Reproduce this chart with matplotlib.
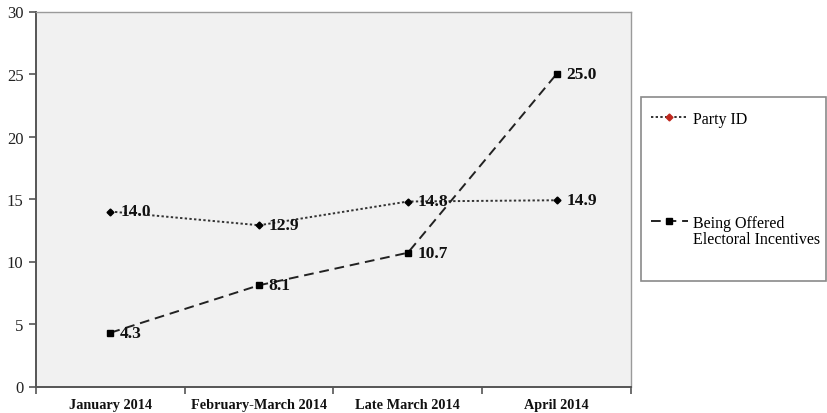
import matplotlib
matplotlib.use("Agg")
import matplotlib.pyplot as plt
from matplotlib.lines import Line2D
from matplotlib.patches import Rectangle

plt.rcParams['font.family'] = ['Liberation Serif', 'DejaVu Serif']

periods = ["January 2014", "February-March 2014", "Late March 2014", "April 2014"]
party_id = [14.0, 12.9, 14.8, 14.9]
incentives = [4.3, 8.1, 10.7, 25.0]
series_names = ["Party ID", "Being Offered", "Electoral Incentives"]
y_ticks = [0, 5, 10, 15, 20, 25, 30]

W, H = 828, 414
fig = plt.figure(figsize=(W / 100, H / 100), dpi=100)
ax = fig.add_axes([36 / W, 1 - 387.5 / H, (631 - 36) / W, (387.5 - 12.5) / H])
ax.set_facecolor("#f1f1f1")

x = list(range(len(periods)))
ax.plot(x, party_id, linestyle=(0, (1.2, 1.2)), color="#333333", lw=1.4,
        marker="D", markersize=3.5, markerfacecolor="black", markeredgecolor="black")
ax.plot(x, incentives, linestyle=(0, (5, 3)), color="#222222", lw=1.4,
        marker="s", markersize=5, markerfacecolor="black", markeredgecolor="black")

for series in (party_id, incentives):
    for xi, v in zip(x, series):
        ax.annotate(f"{v:.1f}", (xi, v), xytext=(7, 0), textcoords="offset points",
                    ha="left", va="center", fontsize=12.5, fontweight="bold",
                    color="#111111")

ax.set_xlim(-0.5, len(periods) - 0.5)
ax.set_ylim(0, 30)
ax.set_yticks(y_ticks)
ax.set_yticklabels([str(t) for t in y_ticks], fontsize=12, color="#222222")

# category boundaries carry the tick marks, centers carry the labels
ax.set_xticks([i - 0.5 for i in range(len(periods) + 1)])
ax.set_xticklabels([])
ax.set_xticks(x, minor=True)
ax.set_xticklabels(periods, minor=True, fontsize=10.3, fontweight="bold", color="#111111")
ax.tick_params(axis="x", which="minor", length=0, pad=8)
ax.tick_params(axis="x", which="major", length=5, width=1.2, color="#555555", direction="out")
ax.tick_params(axis="y", length=5, width=1.2, color="#555555", direction="out", pad=4)

for side in ["left", "bottom"]:
    ax.spines[side].set_color("#555555")
    ax.spines[side].set_linewidth(1.4)
for side in ["top", "right"]:
    ax.spines[side].set_color("#9a9a9a")
    ax.spines[side].set_linewidth(1.0)

# legend box
fig.patches.append(Rectangle((641 / W, 1 - 282 / H), (826 - 641) / W, (282 - 98) / H,
                             transform=fig.transFigure, facecolor="white",
                             edgecolor="#8a8a8a", lw=1.2, zorder=0))
handles = [
    Line2D([], [], linestyle=(0, (1.2, 1.2)), color="#333333", lw=1.4,
           marker="D", markersize=3.5, markerfacecolor="#c0281e", markeredgecolor="#c0281e"),
    Line2D([], [], linestyle=(0, (5, 3)), color="#222222", lw=1.4,
           marker="s", markersize=5, markerfacecolor="black", markeredgecolor="black"),
]
fs_leg = 11.5
fig.legend(handles, series_names[:2], loc="upper left",
           bbox_to_anchor=(651 / W, 1 - 112 / H), frameon=False, fontsize=fs_leg,
           handlelength=2.3, handletextpad=0.3, labelspacing=5.5, borderaxespad=0,
           borderpad=0)
# second line of the multi-line legend entry
fig.text(693 / W, 1 - 240 / H, series_names[2], ha="left", va="center", fontsize=fs_leg)

fig.savefig("out.png", dpi=100)
